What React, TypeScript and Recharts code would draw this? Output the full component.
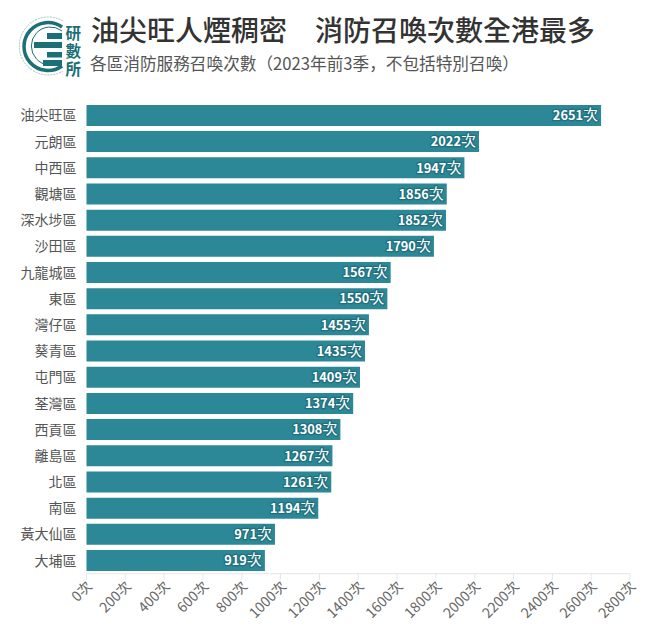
import React from "react";
import { BarChart, Bar, XAxis, YAxis, LabelList } from "recharts";

const districts = ["油尖旺區","元朗區","中西區","觀塘區","深水埗區","沙田區","九龍城區","東區","灣仔區","葵青區","屯門區","荃灣區","西貢區","離島區","北區","南區","黃大仙區","大埔區"];
const calls = [2651,2022,1947,1856,1852,1790,1567,1550,1455,1435,1409,1374,1308,1267,1261,1194,971,919];
const xTicks = [0,200,400,600,800,1000,1200,1400,1600,1800,2000,2200,2400,2600,2800];
const titleText = "油尖旺人煙稠密　消防召喚次數全港最多";
const subtitleText = "各區消防服務召喚次數（2023年前3季，不包括特別召喚）";
const rows = districts.map((name, i) => ({ name, calls: calls[i] }));
const FONT = '"Noto Sans CJK TC", "Noto Sans", sans-serif';
const FONT_SUB = '"Noto Sans CJK SC", "Noto Sans", sans-serif';

function Logo() {
  const c = "#1b6f76";
  return (
    <svg width={90} height={90} style={{ position: "absolute", left: 0, top: 0 }} viewBox="0 0 90 90">
      <path d="M 63 21 A 29 29 0 1 0 63 71" fill="none" stroke="#8fb0b3" strokeWidth={0.8} strokeDasharray="2 1" />
      <path d="M 62 27 A 24 24 0 1 0 62 66" fill="none" stroke={c} strokeWidth={3.5} />
      <path d="M 62 31 A 19 19 0 1 0 62 61" fill="none" stroke={c} strokeWidth={1} />
      <rect x={47} y={33} width={15} height={6} fill={c} />
      <rect x={34} y={42} width={28} height={6} fill={c} />
      <rect x={47} y={52} width={15} height={5.5} fill={c} />
      <rect x={43} y={60} width={19} height={6} fill={c} />
      <text x={65.5} y={39} fontSize={15.5} fontWeight={700} fill={c} fontFamily={FONT}>研</text>
      <text x={65.5} y={57} fontSize={15.5} fontWeight={700} fill={c} fontFamily={FONT}>數</text>
      <text x={65.5} y={75} fontSize={15.5} fontWeight={700} fill={c} fontFamily={FONT}>所</text>
    </svg>
  );
}

function XTick({ x, y, payload }: any) {
  return (
    <g>
      <line x1={x} x2={x} y1={y - 8} y2={y - 2} stroke="#e6e6e6" />
      <text x={x + 6.5} y={y + 5.5} fontSize={14} fill="#666" fontFamily={FONT} textAnchor="end"
        transform={`rotate(-45 ${x + 6.5} ${y + 5.5})`}>{`${payload.value}次`}</text>
    </g>
  );
}

function YTick({ x, y, payload }: any) {
  return (
    <text x={x + 6} y={y + 5} fontSize={14} fill="#555" fontFamily={FONT} textAnchor="end">{payload.value}</text>
  );
}

function ValueLabel({ x, y, width, height, value }: any) {
  return (
    <text x={x + width - 3} y={y + height / 2 + 4.8} fill="#fff" textAnchor="end"
      fontFamily={FONT} stroke="#1f6f7c" strokeWidth={2.5} paintOrder="stroke" strokeLinejoin="round">
      <tspan fontSize={12.8} fontWeight={700}>{value}</tspan>
      <tspan fontSize={15} fontWeight={400}>次</tspan>
    </text>
  );
}

export default function App() {
  return (
    <div style={{ position: "absolute", left: 0, top: 0, width: 660, height: 626, background: "#fff", overflow: "hidden", fontFamily: FONT }}>
      <Logo />
      <div style={{ position: "absolute", left: 91, top: 9, fontSize: 28, fontWeight: 500, color: "#333", whiteSpace: "nowrap", lineHeight: "40px" }}>{titleText}</div>
      <div style={{ position: "absolute", left: 90, top: 51, fontSize: 16.65, color: "#555", whiteSpace: "nowrap", lineHeight: "24px", fontFamily: FONT_SUB }}>{subtitleText}</div>
      <BarChart width={660} height={626} data={rows} layout="vertical" barCategoryGap={2.5}
        margin={{ top: 102.4, right: 30, bottom: 0, left: 0 }} style={{ position: "absolute", left: 0, top: 0 }}>
        <XAxis type="number" domain={[0, 2800]} ticks={xTicks} height={52.3} interval={0}
          axisLine={{ stroke: "#e6e6e6" }} tickLine={false} tick={<XTick />} />
        <YAxis type="category" dataKey="name" width={86.5} interval={0} axisLine={false} tickLine={false} tickMargin={10} tick={<YTick />} />
        <Bar dataKey="calls" fill="#2c8796" isAnimationActive={false}>
          <LabelList dataKey="calls" content={<ValueLabel />} />
        </Bar>
      </BarChart>
    </div>
  );
}
